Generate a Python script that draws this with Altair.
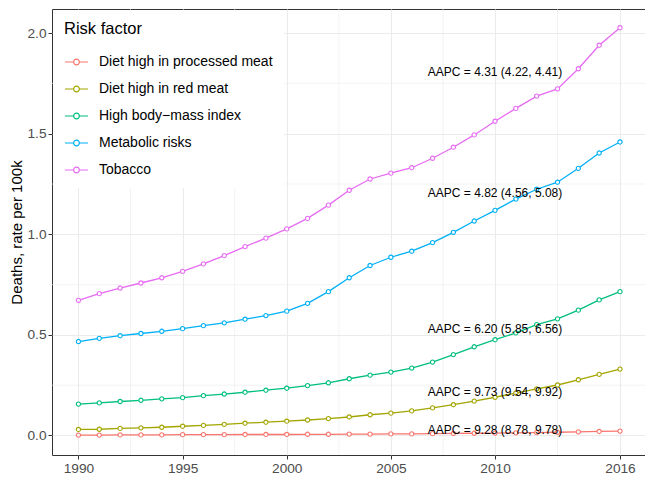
import altair as alt
import pandas as pd

years = list(range(1990, 2017))

processed_meat = [0.002, 0.002, 0.003, 0.003, 0.003, 0.004, 0.004, 0.004, 0.005, 0.005,
                  0.005, 0.006, 0.006, 0.007, 0.007, 0.008, 0.008, 0.009, 0.010, 0.011,
                  0.012, 0.013, 0.014, 0.016, 0.018, 0.020, 0.022]
red_meat = [0.030, 0.031, 0.035, 0.038, 0.041, 0.046, 0.050, 0.055, 0.061, 0.066,
            0.071, 0.077, 0.084, 0.092, 0.103, 0.111, 0.122, 0.137, 0.153, 0.171,
            0.190, 0.211, 0.232, 0.251, 0.277, 0.304, 0.330]
high_bmi = [0.156, 0.162, 0.169, 0.175, 0.182, 0.188, 0.198, 0.206, 0.215, 0.225,
            0.235, 0.248, 0.262, 0.282, 0.300, 0.315, 0.335, 0.365, 0.402, 0.441,
            0.476, 0.510, 0.551, 0.580, 0.623, 0.674, 0.715]
metabolic = [0.467, 0.483, 0.496, 0.507, 0.518, 0.531, 0.546, 0.560, 0.578, 0.596,
             0.618, 0.657, 0.715, 0.784, 0.845, 0.886, 0.916, 0.959, 1.010, 1.066,
             1.119, 1.175, 1.224, 1.259, 1.328, 1.404, 1.459]
tobacco = [0.672, 0.705, 0.733, 0.758, 0.784, 0.816, 0.853, 0.894, 0.939, 0.981,
           1.027, 1.079, 1.145, 1.219, 1.275, 1.304, 1.331, 1.378, 1.433, 1.494,
           1.562, 1.626, 1.687, 1.723, 1.823, 1.940, 2.027]

factors = ["Diet high in processed meat", "Diet high in red meat",
           "High body\u2212mass index", "Metabolic risks", "Tobacco"]
colors = ["#F8766D", "#A3A500", "#00BF7D", "#00B0F6", "#E76BF3"]
series = [processed_meat, red_meat, high_bmi, metabolic, tobacco]

aapc_labels = ["AAPC = 4.31 (4.22, 4.41)", "AAPC = 4.82 (4.56, 5.08)",
               "AAPC = 6.20 (5.85, 6.56)", "AAPC = 9.73 (9.54, 9.92)",
               "AAPC = 9.28 (8.78, 9.78)"]
aapc_x = [2010, 2010, 2010, 2010, 2010]
aapc_y = [1.807, 1.203, 0.527, 0.217, 0.027]

x_major = [1990, 1995, 2000, 2005, 2010, 2016]
x_minor = [1992.5, 1997.5, 2002.5, 2007.5, 2013]
y_major = [0.0, 0.5, 1.0, 1.5, 2.0]
y_minor = [0.25, 0.75, 1.25, 1.75]

rows = []
for f, vals in zip(factors, series):
    for yr, v in zip(years, vals):
        rows.append({"Year": yr, "Value": v, "Risk factor": f})
df = pd.DataFrame(rows)

ann = pd.DataFrame({"x": aapc_x, "y": aapc_y, "label": aapc_labels})

xscale = alt.Scale(domain=[1988.73, 2017.2], nice=False, zero=False)
yscale = alt.Scale(domain=[-0.097, 2.12], nice=False, zero=False)

grid_col = "#EBEBEB"

xaxis = alt.Axis(values=x_major, format="d", title=None, grid=True,
                 gridColor=grid_col, gridWidth=1.1)
yaxis = alt.Axis(values=y_major, format=".1f", title="Deaths, rate per 100k",
                 grid=True, gridColor=grid_col, gridWidth=1.1)

minor_x = alt.Chart(pd.DataFrame({"v": x_minor})).mark_rule(
    color=grid_col, strokeWidth=0.6).encode(
    x=alt.X("v:Q", scale=xscale, axis=xaxis, title=None))
minor_y = alt.Chart(pd.DataFrame({"v": y_minor})).mark_rule(
    color=grid_col, strokeWidth=0.6).encode(
    y=alt.Y("v:Q", scale=yscale, axis=yaxis, title="Deaths, rate per 100k"))

color_enc = alt.Color(
    "Risk factor:N",
    scale=alt.Scale(domain=factors, range=colors),
    legend=alt.Legend(
        title="Risk factor",
        orient="top-left",
        offset=1,
        fillColor="white",
        padding=11,
        titleFontSize=16.5,
        titleFontWeight="normal",
        titleColor="black",
        titlePadding=12,
        labelFontSize=14,
        labelColor="black",
        labelOffset=10,
        labelLimit=400,
        symbolType="M-1,0L-0.25,0M0.25,0L1,0M-0.25,0A0.25,0.25 0 1,1 0.25,0A0.25,0.25 0 1,1 -0.25,0Z",
        symbolSize=529,
        symbolStrokeWidth=1.2,
        symbolFillColor="white",
        rowPadding=7,
    ),
)

lines = alt.Chart(df).mark_line(strokeWidth=1.3).encode(
    x=alt.X("Year:Q", scale=xscale, axis=xaxis, title=None),
    y=alt.Y("Value:Q", scale=yscale, axis=yaxis, title="Deaths, rate per 100k"),
    color=color_enc,
)

points = alt.Chart(df).mark_point(filled=False, fill="white", size=18, strokeWidth=1.1, opacity=1).encode(
    x=alt.X("Year:Q", scale=xscale, axis=xaxis, title=None),
    y=alt.Y("Value:Q", scale=yscale, axis=yaxis, title="Deaths, rate per 100k"),
    color=alt.Color("Risk factor:N", scale=alt.Scale(domain=factors, range=colors), legend=None),
)

texts = alt.Chart(ann).mark_text(fontSize=12, color="black", align="center", baseline="middle",
                                 font="Liberation Sans").encode(
    x=alt.X("x:Q", scale=xscale, axis=xaxis, title=None),
    y=alt.Y("y:Q", scale=yscale, axis=yaxis, title="Deaths, rate per 100k"),
    text="label:N",
)

chart = alt.layer(minor_x, minor_y, lines, points, texts).properties(
    width=593, height=446,
    autosize=alt.AutoSizeParams(type="none"),
    padding={"left": 44, "top": 1, "right": 0, "bottom": 20},
).configure(
    font="Liberation Sans",
).configure_view(
    stroke="#333333", strokeWidth=1,
).configure_axis(
    domain=False,
    tickColor="#333333",
    tickSize=4,
    labelColor="#4D4D4D",
    labelFontSize=13.7,
    labelPadding=2,
    titleFontSize=15,
    titleFontWeight="normal",
    titleColor="black",
    titlePadding=2,
)

chart.save("out.html", embed_options={"renderer": "svg", "actions": False})
